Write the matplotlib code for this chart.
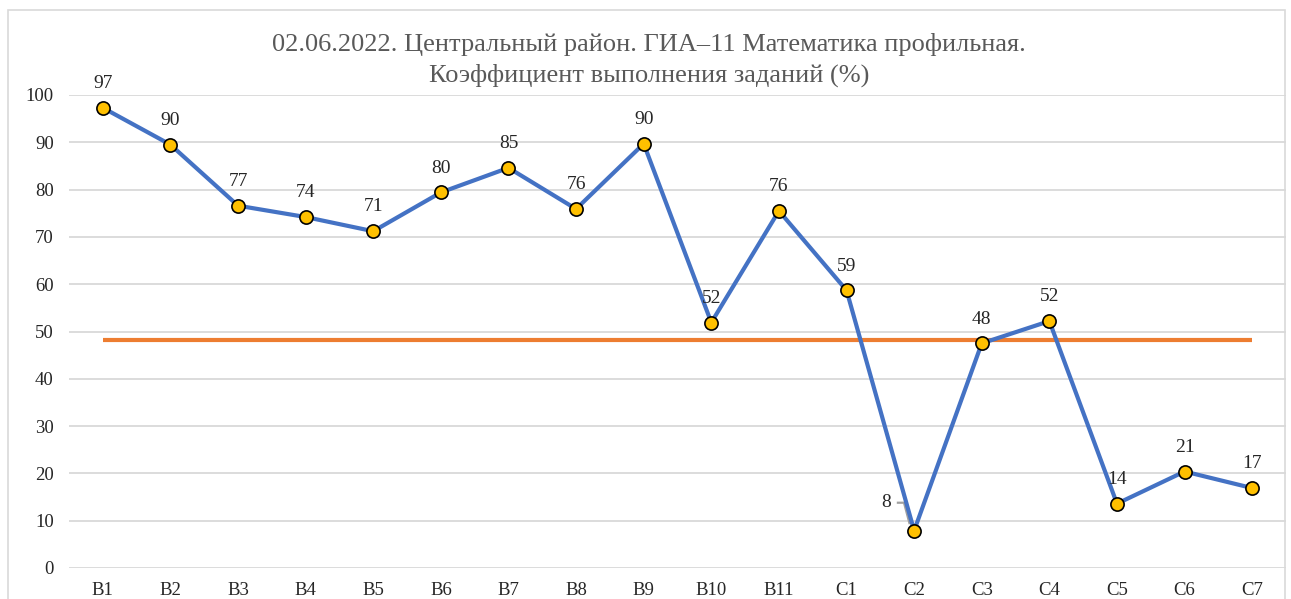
import matplotlib

matplotlib.use("Agg")
import matplotlib.pyplot as plt
from matplotlib.patches import Rectangle

plt.rcParams["font.family"] = ["Liberation Serif", "DejaVu Serif"]

# data
tasks = ["В1", "В2", "В3", "В4", "В5", "В6", "В7", "В8", "В9", "В10", "В11",
         "С1", "С2", "С3", "С4", "С5", "С6", "С7"]
kvz = [97.3, 89.5, 76.6, 74.2, 71.2, 79.4, 84.6, 75.9, 89.7, 51.9, 75.5,
       58.7, 7.9, 47.5, 52.2, 13.6, 20.4, 16.9]
labels = ["97", "90", "77", "74", "71", "80", "85", "76", "90", "52", "76",
          "59", "8", "48", "52", "14", "21", "17"]
threshold = [48.2] * len(tasks)

C_BLUE, C_ORANGE, C_GOLD = "#4472C4", "#ED7D31", "#FFC000"

fig = plt.figure(figsize=(12.91, 5.99), dpi=100)
fig.patches.append(Rectangle((8 / 1291, -0.1), 1277 / 1291, 1.1 - 10 / 599,
                             transform=fig.transFigure, fill=False,
                             edgecolor="#d9d9d9", lw=1.2))
ax = fig.add_axes([69 / 1291, 1 - 568 / 599, 1217 / 1291, 473 / 599])

x = list(range(len(tasks)))
ax.plot(x, threshold, color=C_ORANGE, lw=3.0, solid_capstyle="butt", zorder=2)
ax.plot(x, kvz, color=C_BLUE, lw=3.0, marker="o", ms=9.5, mfc=C_GOLD,
        mec="black", mew=1.2, zorder=3)

for i, (v, t) in enumerate(zip(kvz, labels)):
    if t == "8":
        # label pushed left, with a grey leader line (as in the source)
        ax.annotate(t, xy=(i, v), xytext=(-20, 20), textcoords="offset points",
                    ha="center", va="center", fontsize=14, color="#262626")
        ax.plot([i - 0.24, i - 0.15, i - 0.07], [v + 5.9, v + 5.9, v + 1.6],
                color="#a0a0a0", lw=1.6, zorder=2.5)
    else:
        ax.annotate(t, xy=(i, v), xytext=(0, 17.5), textcoords="offset points",
                    ha="center", va="center", fontsize=14, color="#262626")

ax.set_xlim(-0.5, len(tasks) - 0.5)
ax.set_ylim(0, 100)
ax.set_yticks(range(0, 101, 10))
ax.set_xticks(x)
ax.set_xticklabels(tasks)
ax.tick_params(length=0, labelsize=13.5, colors="#262626")
ax.tick_params(axis="x", pad=10)
ax.tick_params(axis="y", pad=11)
ax.grid(axis="y", color="#d9d9d9", lw=1.3)
ax.set_axisbelow(True)
for s in ax.spines.values():
    s.set_visible(False)

fig.text(0.503, 1 - 60 / 599,
         "02.06.2022. Центральный район. ГИА–11 Математика профильная.\n"
         "Коэффициент выполнения заданий (%)",
         ha="center", va="center", fontsize=19, color="#595959",
         linespacing=1.38)

fig.savefig("out.png", dpi=100)
